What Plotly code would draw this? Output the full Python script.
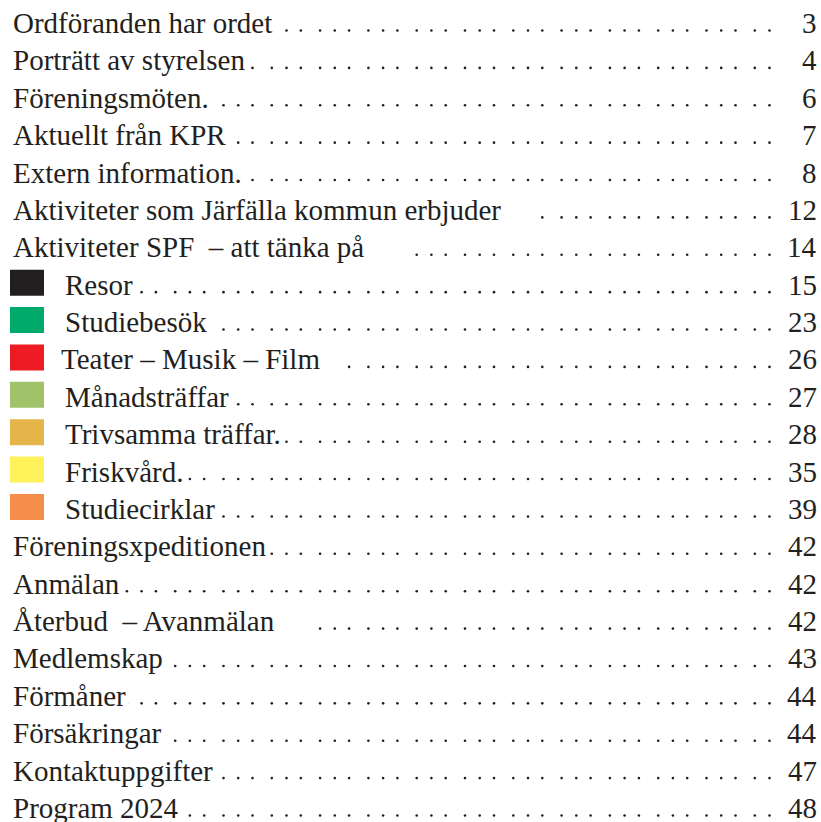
import numpy as np
import plotly.graph_objects as go

# ---- data ----
titles = [
    "Ordföranden har ordet",
    "Porträtt av styrelsen",
    "Föreningsmöten.",
    "Aktuellt från KPR",
    "Extern information.",
    "Aktiviteter som Järfälla kommun erbjuder\u00a0\u00a0\u00a0\u00a0",
    "Aktiviteter SPF \u00a0– att tänka på\u00a0\u00a0\u00a0\u00a0\u00a0",
    "Resor",
    "Studiebesök",
    "Teater – Musik – Film\u00a0\u00a0",
    "Månadsträffar",
    "Trivsamma träffar.",
    "Friskvård.",
    "Studiecirklar",
    "Föreningsxpeditionen",
    "Anmälan",
    "Återbud \u00a0– Avanmälan\u00a0\u00a0\u00a0\u00a0",
    "Medlemskap",
    "Förmåner",
    "Försäkringar",
    "Kontaktuppgifter",
    "Program 2024",
]
pages = ["3", "4", "6", "7", "8", "12", "14", "15", "23", "26", "27", "28",
         "35", "39", "42", "42", "42", "43", "44", "44", "47", "48"]
section_colors = [None, None, None, None, None, None, None,
                  "#231f20", "#00aa6a", "#ed1c24", "#a0c268", "#e6b54a",
                  "#fff15a", "#f58e4a",
                  None, None, None, None, None, None, None, None]

# ---- layout constants ----
W, H = 821, 822
ROW_PX = 37.38
BASE0 = 33.0
FONT = "Liberation Serif, Times New Roman, serif"
FS = 29
TXT = "#231f20"

n = len(titles)
y_top = -BASE0 / ROW_PX
y_bot = y_top + H / ROW_PX

# leader dot grid (decoration)
grp = 30.3 + 48.3 * np.arange(16)
grid_x = np.sort(np.concatenate([grp, grp + 14.7, grp + 29.0]))
grid_x = grid_x[grid_x <= 773]

fig = go.Figure()
annotations = []
shapes = []
dx, dy = [], []
for i, (t, p, c) in enumerate(zip(titles, pages, section_colors)):
    x0 = 12 if c is None else 64
    if t.startswith("Teater"):
        x0 = 60
    row_dots = grid_x[grid_x > x0 + 10]
    dx.extend(row_dots.tolist())
    dy.extend([i - 2.5 / ROW_PX] * len(row_dots))
    annotations.append(dict(
        x=x0 - 2, y=i, xref="x", yref="y", text=t, showarrow=False,
        xanchor="left", yanchor="middle", yshift=10, borderpad=2,
        bgcolor="white", font=dict(family=FONT, size=FS, color=TXT)))
    annotations.append(dict(
        x=818, y=i, xref="x", yref="y", text=p, showarrow=False,
        xanchor="right", yanchor="middle", yshift=10, borderpad=0,
        font=dict(family=FONT, size=FS, color=TXT)))
    if c is not None:
        shapes.append(dict(type="rect", xref="x", yref="y",
                           x0=10, x1=44,
                           y0=i + 1 / ROW_PX, y1=i - 25 / ROW_PX,
                           fillcolor=c, line=dict(width=0), layer="above"))

fig.add_trace(go.Scatter(x=dx, y=dy, mode="markers",
                         marker=dict(size=2.6, color=TXT),
                         hoverinfo="skip", showlegend=False))

fig.update_layout(
    width=W, height=H,
    margin=dict(l=0, r=0, t=0, b=0),
    paper_bgcolor="white", plot_bgcolor="white",
    xaxis=dict(range=[0, W], visible=False, fixedrange=True),
    yaxis=dict(range=[y_bot, y_top], visible=False, fixedrange=True),
    annotations=annotations, shapes=shapes,
    showlegend=False,
)

fig.write_html("out.html", config={"displayModeBar": False},
               post_script="document.body.style.margin='0';document.body.style.overflow='hidden';")
